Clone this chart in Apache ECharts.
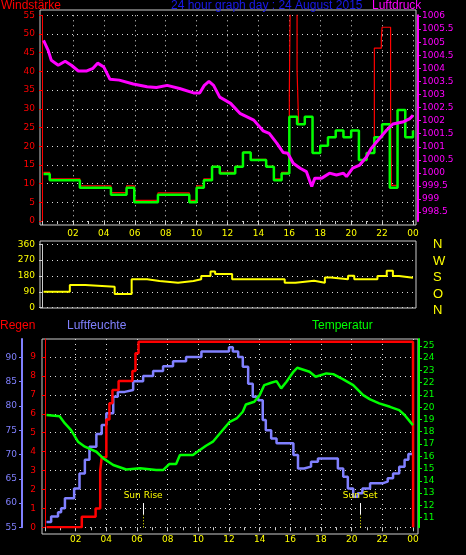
<!DOCTYPE html>
<html>
<head>
<meta charset="utf-8">
<script src="https://cdn.jsdelivr.net/npm/echarts@6/dist/echarts.min.js"></script>
<style>
  html, body { margin: 0; padding: 0; background: #000; }
  #chart { width: 466px; height: 555px; }
</style>
</head>
<body>
<div id="chart"></div>
<script>
// ---- data (hours 0..24) ----
// Windstärke, mean (green) as steps [start hour, value]
const windT   = [0.1, 0.5, 2.45, 4.46, 5.47, 5.97, 7.5, 9.53, 10.0, 10.47, 11.0, 11.5, 12.5, 13.0, 13.5, 14.5, 15.0, 15.5, 16.0, 16.5, 17.0, 17.5, 18.0, 18.5, 19.0, 19.5, 20.0, 20.5, 21.0, 21.5, 22.0, 22.5, 23.0, 23.5, 24.0];
const windAvg = [12.6, 10.9, 8.9, 7.0, 8.9, 5.0, 7.0, 5.0, 8.9, 10.9, 14.5, 12.7, 14.5, 18.3, 16.3, 14.5, 10.9, 12.7, 27.9, 25.9, 27.9, 18.2, 20.1, 22.4, 24.2, 22.4, 24.2, 16.3, 18.2, 22.4, 25.9, 8.9, 29.7, 22.4, 24.2];
// gusts (red)
const gustT = [0.1, 0.5, 2.45, 4.46, 5.47, 5.97, 7.5, 9.53, 10.0, 10.47, 11.0, 11.5, 12.5, 13.0, 13.5, 14.5, 15.0, 15.5, 16.0, 16.05, 16.5, 16.6, 17.0, 17.5, 18.0, 18.5, 19.0, 19.5, 20.0, 20.5, 20.55, 21.0, 21.5, 21.95, 22.0, 22.55, 22.6, 23.0, 23.5, 24.0];
const gust  = [13.0, 11.3, 9.4, 7.6, 9.4, 5.5, 7.5, 5.5, 9.4, 11.3, 14.6, 13.0, 14.6, 18.4, 16.5, 14.6, 11.3, 13.0, 34.0, 55.5, 40.3, 25.9, 27.9, 18.2, 20.1, 22.4, 24.2, 22.4, 24.2, 20.0, 16.3, 18.2, 46.2, 48.8, 51.8, 30.6, 9.5, 29.7, 22.4, 24.2];
// Luftdruck
const presT = [0.1, 0.4, 0.6, 1.05, 1.5, 1.9, 2.35, 2.9, 3.3, 3.6, 4.0, 4.4, 5.0, 5.9, 6.8, 7.4, 8.1, 8.9, 9.8, 10.2, 10.5, 10.8, 11.1, 11.5, 12.2, 12.8, 13.7, 14.3, 14.7, 15.2, 15.6, 15.9, 16.25, 16.7, 17.1, 17.45, 17.65, 18.1, 18.6, 19.05, 19.5, 19.7, 20.1, 20.55, 21.0, 21.3, 21.75, 22.3, 22.7, 23.4, 23.8, 24.0];
const pres  = [1005.07, 1004.69, 1004.31, 1004.12, 1004.27, 1004.12, 1003.9, 1003.9, 1004.0, 1004.2, 1004.05, 1003.58, 1003.55, 1003.4, 1003.3, 1003.27, 1003.35, 1003.23, 1003.06, 1003.06, 1003.35, 1003.5, 1003.35, 1002.9, 1002.66, 1002.28, 1002.02, 1001.61, 1001.51, 1001.13, 1000.78, 1000.75, 1000.37, 1000.18, 1000.05, 999.48, 999.8, 999.8, 999.99, 999.92, 999.99, 999.86, 1000.18, 1000.3, 1000.62, 1000.94, 1001.26, 1001.64, 1001.87, 1001.96, 1002.08, 1002.2];
const presTicks = [998.5, 999, 999.5, 1000, 1000.5, 1001, 1001.5, 1002, 1002.5, 1003, 1003.5, 1004, 1004.5, 1005, 1005.5, 1006];
// Windrichtung (steps)
const dirT = [0.1, 1.8, 2.8, 4.7, 5.8, 6.8, 7.6, 8.8, 9.8, 10.3, 10.9, 11.2, 12.3, 15.7, 16.4, 17.6, 18.3, 18.7, 19.8, 20.2, 21.7, 22.3, 22.7, 23.1, 24.0];
const dir  = [91, 129, 119, 78, 161, 152, 142, 152, 161, 180, 205, 191, 161, 142, 153, 142, 172, 161, 182, 161, 180, 210, 180, 170, 170];
// Regen (cumulative steps)
const rainT = [0.1, 2.4, 3.3, 3.6, 3.7, 4.0, 4.2, 4.4, 4.8, 5.7, 5.9, 6.1, 24.0, 24.01];
const rain  = [0, 0.56, 1.0, 3.0, 3.7, 5.7, 6.55, 7.25, 7.73, 8.26, 9.2, 9.8, 9.8, 0];
// Luftfeuchte
const humT = [0.1, 0.4, 0.85, 1.05, 1.3, 1.7, 1.9, 2.25, 2.6, 2.9, 3.35, 3.7, 4.0, 4.45, 4.75, 5.2, 5.75, 6.4, 7.05, 7.7, 8.35, 9.2, 10.2, 11.2, 12.0, 12.25, 12.6, 12.9, 13.25, 13.55, 13.9, 14.2, 14.4, 14.75, 15.1, 15.75, 16.2, 16.5, 16.9, 17.35, 17.8, 18.8, 19.1, 19.45, 19.75, 20.1, 20.4, 20.7, 21.2, 22.05, 22.35, 22.7, 23.1, 23.45, 23.7, 24.0];
const hum  = [56.1, 57.2, 58.1, 58.9, 61.0, 61.0, 63.0, 66.1, 68.9, 71.6, 74.2, 76.1, 78.5, 81.9, 82.9, 83.3, 85.1, 86.2, 87.2, 88.2, 89.2, 90.1, 91.2, 91.2, 92.1, 91.2, 90.1, 88.1, 84.6, 81.9, 81.2, 77.1, 75.0, 73.3, 72.3, 72.3, 69.9, 67.1, 67.5, 68.5, 69.2, 69.2, 67.1, 65.4, 63.0, 61.3, 62.0, 63.0, 64.1, 64.4, 65.1, 66.1, 67.5, 68.9, 70.1, 70.1];
const humTicks = [55, 60, 65, 70, 75, 80, 85, 90];
// Temperatur
const tempT = [0.1, 0.95, 1.3, 1.7, 2.15, 2.6, 3.35, 3.8, 4.45, 5.3, 6.2, 7.25, 7.7, 8.1, 8.55, 8.8, 9.65, 10.1, 10.5, 10.95, 11.4, 12.05, 12.5, 12.9, 13.1, 13.65, 14.0, 14.3, 14.75, 15.1, 15.4, 15.75, 16.2, 16.45, 16.8, 17.25, 17.65, 18.35, 18.8, 19.45, 20.1, 20.75, 21.2, 21.8, 22.5, 23.1, 23.45, 23.9, 24.0];
const temp  = [19.36, 19.27, 18.68, 18.13, 17.19, 16.78, 16.37, 15.83, 15.29, 14.93, 15.02, 14.88, 14.88, 15.37, 15.37, 16.1, 16.1, 16.51, 16.86, 17.19, 17.86, 18.81, 19.08, 19.63, 20.22, 20.44, 20.98, 21.8, 21.99, 22.12, 21.53, 22.07, 22.88, 23.21, 23.07, 22.88, 22.48, 22.75, 22.69, 22.26, 21.8, 20.98, 20.63, 20.31, 20.03, 19.76, 19.36, 18.68, 18.54];
const tempTicks = [11, 12, 13, 14, 15, 16, 17, 18, 19, 20, 21, 22, 23, 24, 25];
const rainTicks = [0, 1, 2, 3, 4, 5, 6, 7, 8, 9];
const sunRise = 6.4;
const sunSet = 20.55;
const compass = ['N', 'W', 'S', 'O', 'N'];

function pairs(xs, ys) { return xs.map(function(x, i) { return [x, ys[i]]; }); }
function plain(v) { return String(v); }

const FONT = 'DejaVu Sans';
const dotted = { show: true, lineStyle: { color: '#ddd', type: [1, 4], width: 1 } };

function hourAxis(gridIndex, showLabels) {
    return {
        type: 'value', gridIndex: gridIndex, min: 0, max: 24, interval: 2,
        axisLine: { show: false },
        axisTick: { show: showLabels, length: 4, inside: false, lineStyle: { color: '#ccc' } },
        minorTick: { show: showLabels, splitNumber: 2, length: 3, lineStyle: { color: '#ccc' } },
        axisLabel: {
            show: showLabels, color: '#ffff00', fontSize: 9, fontFamily: FONT, margin: 8,
            formatter: function(v) { return v === 0 ? '' : String(v % 24).padStart(2, '0'); }
        },
        splitLine: showLabels ? dotted : { show: false }
    };
}

const chart = echarts.init(document.getElementById('chart'));

const option = {
    backgroundColor: '#000',
    animation: false,
    grid: [
        { left: 42, width: 371, top: 15.3, height: 205.7 },
        { left: 42, width: 371, top: 244.3, height: 63.4 },
        { left: 45, width: 368, top: 339, height: 188.3 }
    ],
    xAxis: [hourAxis(0, true), hourAxis(1, false), hourAxis(2, true)],
    yAxis: [
        { // 0 Windstärke
            type: 'value', gridIndex: 0, min: 0, max: 55, interval: 5, position: 'left', offset: 2,
            axisLine: { show: true, lineStyle: { color: '#ff0000' } },
            axisTick: { show: true, length: 3, lineStyle: { color: '#ff0000' } },
            axisLabel: { color: '#ff0000', fontSize: 9, fontFamily: FONT, margin: 5 },
            splitLine: dotted
        },
        { // 1 Luftdruck
            type: 'value', gridIndex: 0, min: 998.16, max: 1006.03, position: 'right', offset: 5,
            axisLine: { show: true, lineStyle: { color: '#ff00ff', width: 2 } },
            axisTick: { show: true, length: 3, customValues: presTicks, lineStyle: { color: '#ff00ff' } },
            axisLabel: { color: '#ff00ff', fontSize: 9, fontFamily: FONT, margin: 4, customValues: presTicks, formatter: plain },
            splitLine: { show: false }
        },
        { // 2 Windrichtung
            type: 'value', gridIndex: 1, min: 0, max: 360, interval: 90, position: 'left', offset: 2,
            axisLine: { show: true, lineStyle: { color: '#ccc' } },
            axisTick: { show: true, length: 3, lineStyle: { color: '#ccc' } },
            axisLabel: { color: '#ffff00', fontSize: 9, fontFamily: FONT, margin: 5 },
            splitLine: dotted
        },
        { // 3 Regen
            type: 'value', gridIndex: 2, min: 0, max: 9.95, interval: 1, position: 'left', offset: 3,
            axisLine: { show: true, lineStyle: { color: '#ff0000' } },
            axisTick: { show: true, length: 3, customValues: rainTicks, lineStyle: { color: '#ff0000' } },
            axisLabel: { color: '#ff0000', fontSize: 9, fontFamily: FONT, margin: 6, customValues: rainTicks },
            splitLine: dotted
        },
        { // 4 Luftfeuchte
            type: 'value', gridIndex: 2, min: 55, max: 93.8, position: 'left', offset: 23,
            axisLine: { show: true, lineStyle: { color: '#8080ff', width: 2 } },
            axisTick: { show: true, length: 3, customValues: humTicks, lineStyle: { color: '#8080ff' } },
            axisLabel: { color: '#8080ff', fontSize: 9, fontFamily: FONT, margin: 5, customValues: humTicks },
            splitLine: { show: false }
        },
        { // 5 Temperatur
            type: 'value', gridIndex: 2, min: 10.22, max: 25.55, position: 'right', offset: 6,
            axisLine: { show: true, lineStyle: { color: '#00ff00', width: 2 } },
            axisTick: { show: true, length: 3, customValues: tempTicks, lineStyle: { color: '#00ff00' } },
            axisLabel: { color: '#00ff00', fontSize: 9, fontFamily: FONT, margin: 4, customValues: tempTicks },
            splitLine: { show: false }
        }
    ],
    graphic: [
        { type: 'rect', shape: { x: 40, y: 10, width: 376, height: 215 }, style: { fill: null, stroke: '#ccc', lineWidth: 1 }, silent: true },
        { type: 'rect', shape: { x: 40, y: 241, width: 376, height: 67 }, style: { fill: null, stroke: '#ccc', lineWidth: 1 }, silent: true },
        { type: 'rect', shape: { x: 42, y: 339, width: 376, height: 195 }, style: { fill: null, stroke: '#ccc', lineWidth: 1 }, silent: true },
        { type: 'text', left: 1, top: 0, style: { text: 'Windstärke', fill: '#ff0000', font: '12px Liberation Sans' } },
        { type: 'text', left: 171, top: 0, style: { text: '24 hour graph day : 24 August 2015', fill: '#1a1aee', font: '12px Liberation Sans' } },
        { type: 'text', left: 372, top: 0, style: { text: 'Luftdruck', fill: '#ff00ff', font: '12px Liberation Sans' } },
        { type: 'text', left: 0, top: 320, style: { text: 'Regen', fill: '#ff0000', font: '12px Liberation Sans' } },
        { type: 'text', left: 67, top: 320, style: { text: 'Luftfeuchte', fill: '#8080ff', font: '12px Liberation Sans' } },
        { type: 'text', left: 312, top: 320, style: { text: 'Temperatur', fill: '#00ff00', font: '12px Liberation Sans' } }
    ].concat(compass.map(function(c, i) {
        return { type: 'text', left: 433, top: 238 + i * 16.5, style: { text: c, fill: '#ffff00', font: '13px Liberation Sans' } };
    })),
    series: [
        {
            name: 'Böen', type: 'line', xAxisIndex: 0, yAxisIndex: 0, step: 'end', symbol: 'none', z: 2,
            lineStyle: { color: '#ff0000', width: 1.2 }, data: pairs(gustT, gust)
        },
        {
            name: 'Windstärke', type: 'line', xAxisIndex: 0, yAxisIndex: 0, step: 'end', symbol: 'none', z: 3,
            lineStyle: { color: '#00ff00', width: 2.5 }, data: pairs(windT, windAvg)
        },
        {
            name: 'Luftdruck', type: 'line', xAxisIndex: 0, yAxisIndex: 1, symbol: 'none', z: 4,
            lineStyle: { color: '#ff00ff', width: 3 }, data: pairs(presT, pres)
        },
        {
            name: 'Windrichtung', type: 'line', xAxisIndex: 1, yAxisIndex: 2, step: 'end', symbol: 'none',
            lineStyle: { color: '#ffff00', width: 2 }, data: pairs(dirT, dir)
        },
        {
            name: 'Regen', type: 'line', xAxisIndex: 2, yAxisIndex: 3, step: 'end', symbol: 'none', z: 3,
            lineStyle: { color: '#ff0000', width: 2.5 }, data: pairs(rainT, rain)
        },
        {
            name: 'Luftfeuchte', type: 'line', xAxisIndex: 2, yAxisIndex: 4, step: 'end', symbol: 'none', z: 2,
            lineStyle: { color: '#8080ff', width: 2.5 }, data: pairs(humT, hum),
            markLine: {
                silent: true, symbol: 'none',
                label: { show: true, position: 'end', color: '#ffff00', fontSize: 9, fontFamily: FONT, distance: 3 },
                lineStyle: { color: '#ffffff', type: 'solid', width: 1 },
                data: [
                    [{ coord: [sunRise, 55], lineStyle: { color: '#ffff00', type: [1, 2] } }, { coord: [sunRise, 57.6] }],
                    [{ coord: [sunRise, 57.6] }, { coord: [sunRise, 60], label: { formatter: 'Sun Rise' } }],
                    [{ coord: [sunSet, 55], lineStyle: { color: '#ffff00', type: [1, 2] } }, { coord: [sunSet, 57.6] }],
                    [{ coord: [sunSet, 57.6] }, { coord: [sunSet, 60], label: { formatter: 'Sun Set' } }]
                ].map(function(seg) {
                    if (!seg[1].label) seg[0].label = { show: false };
                    return seg;
                })
            }
        },
        {
            name: 'Temperatur', type: 'line', xAxisIndex: 2, yAxisIndex: 5, symbol: 'none', z: 3,
            lineStyle: { color: '#00ff00', width: 2.5 }, data: pairs(tempT, temp)
        }
    ]
};

chart.setOption(option);
</script>
</body>
</html>
